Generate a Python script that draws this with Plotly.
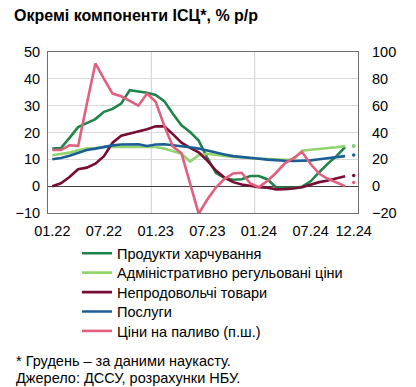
import plotly.graph_objects as go

# ---------------- data ----------------
months = [f"{m:02d}.{y}" for y in (22, 23, 24) for m in range(1, 13)]
tick_labels = ["01.22", "07.22", "01.23", "07.23", "01.24", "07.24", "12.24"]

# actual data through 11.24 (left axis, % y/y)
food = [14.0, 14.2, 18.0, 22.0, 23.5, 25.0, 27.7, 28.8, 30.8, 35.8, 35.3, 34.8,
        34.0, 31.7, 27.0, 22.7, 20.2, 17.0, 10.5, 5.0, 3.0, 2.4, 2.6, 3.8,
        3.8, 2.5, -0.5, -0.6, -0.6, -0.2, 1.8, 5.2, 8.4, 11.2, 14.6]
admin = [11.5, 12.0, 12.5, 13.4, 14.0, 14.2, 14.6, 14.6, 14.6, 14.6, 14.6, 14.8,
         14.6, 14.0, 13.0, 12.1, 9.2, 11.5, 12.1, 11.8, 11.3, 10.9, 10.6, 10.5,
         10.3, 10.1, 9.9, 9.8, 9.9, 13.2, 13.6, 13.9, 14.1, 14.5, 15.0]
nonfood = [0.0, 1.1, 3.4, 6.3, 6.9, 8.4, 11.2, 16.2, 18.8, 19.6, 20.5, 21.2,
           22.3, 22.3, 19.4, 16.2, 14.3, 12.6, 9.5, 5.8, 3.2, 1.5, 0.6, 0.0,
           -0.4, -0.6, -1.2, -1.1, -0.9, -0.4, 0.6, 1.5, 2.1, 2.8, 3.7]
services = [10.0, 10.5, 11.3, 12.5, 13.5, 14.0, 14.7, 15.2, 15.5, 15.6, 15.6, 15.0,
            15.5, 15.6, 15.3, 15.0, 14.5, 14.0, 13.2, 12.5, 11.8, 11.2, 10.8, 10.5,
            10.2, 9.9, 9.6, 9.5, 9.4, 9.4, 9.6, 10.0, 10.4, 10.8, 11.2]
# right axis
fuel = [27, 27, 30.5, 30, 61, 91.5, 80, 69, 67, 63.5, 60, 69,
        63, 45, 29.5, 24.5, 2, -20.5, -10, -1, 5.5, 9.5, 10, 2,
        -0.75, 4, 10, 17, 21, 25.5, 16.5, 9.25, 5.5, 2.5, 0]

# December 2024 nowcast
nowcast = {"food": 15.0, "admin": 15.0, "nonfood": 4.0, "services": 11.6, "fuel": 2.8}

keys = ["food", "admin", "nonfood", "services", "fuel"]
names = {
    "food": "Продукти харчування",
    "admin": "Адміністративно регульовані ціни",
    "nonfood": "Непродовольчі товари",
    "services": "Послуги",
    "fuel": "Ціни на паливо (п.ш.)",
}
colors = {
    "food": "#1e8449",
    "admin": "#92d36e",
    "nonfood": "#780c34",
    "services": "#1b5e96",
    "fuel": "#e0607e",
}
series = {"food": food, "admin": admin, "nonfood": nonfood, "services": services, "fuel": fuel}

# ---------------- layout geometry (page pixels) ----------------
OFF = 8                      # default body margin of the html page
PAGE_W, PAGE_H = 416, 387
W, H = PAGE_W - OFF, PAGE_H - OFF
plot_left, plot_right = 48.3, 358.3
plot_top, plot_bottom = 52.3, 212.7
L = plot_left - OFF
R = W - (plot_right - OFF)
T = plot_top - OFF
B = H - (plot_bottom - OFF)
FONT = "Liberation Sans, Arial, sans-serif"
FS = 14.5

plot_w = plot_right - plot_left
plot_h = plot_bottom - plot_top


def px_x(px):
    return (px - plot_left) / plot_w


def px_y(py):
    return (plot_bottom - py) / plot_h


def cx(px):
    return (px - OFF) / W


def cy(py):
    return 1 - (py - OFF) / H


x_all = list(range(len(months)))
fig = go.Figure()

legend_names = ["legend", "legend2", "legend3", "legend4", "legend5"]
for key, lg in zip(keys, legend_names):
    vals = series[key]
    axis = "y2" if key == "fuel" else "y"
    fig.add_trace(go.Scatter(
        x=x_all[:len(vals)], y=vals, mode="lines", name=names[key],
        line=dict(color=colors[key], width=2.6), yaxis=axis, legend=lg,
    ))

for key in keys:
    axis = "y2" if key == "fuel" else "y"
    fig.add_trace(go.Scatter(
        x=[x_all[-1]], y=[nowcast[key]], mode="markers", showlegend=False,
        marker=dict(color=colors[key], size=3.5), yaxis=axis, hoverinfo="skip",
    ))

year_bounds = [months.index("01.23") - 0.5, months.index("01.24") - 0.5]
for xb in year_bounds:
    fig.add_shape(type="line", xref="x", yref="paper", x0=xb, x1=xb, y0=0, y1=1,
                  line=dict(color="#d0d0d0", width=1), layer="below")

legend_item_y = [253.3, 272.7, 292.2, 311.6, 331.0]
legend_cfg = {}
for lg, py in zip(legend_names, legend_item_y):
    legend_cfg[lg] = dict(
        x=cx(77), xref="container", xanchor="left",
        y=cy(py), yref="container", yanchor="middle",
        orientation="v", font=dict(size=FS, color="#000000", family=FONT),
        bgcolor="rgba(0,0,0,0)", itemwidth=30,
    )

fig.update_layout(
    width=W, height=H,
    margin=dict(l=L, r=R, t=T, b=B, autoexpand=False),
    paper_bgcolor="white", plot_bgcolor="white",
    font=dict(family=FONT, size=FS, color="#000000"),
    title=dict(text="<b>Окремі компоненти ІСЦ*, % р/р</b>",
               x=cx(14), xref="container", xanchor="left",
               y=cy(15.5), yref="container", yanchor="middle",
               font=dict(size=16, color="#000000", family=FONT)),
    xaxis=dict(
        range=[-0.5, len(months) - 0.5],
        tickmode="array",
        tickvals=[months.index(t) for t in tick_labels],
        ticktext=tick_labels,
        showgrid=False, zeroline=False,
        showline=True, mirror=True, linecolor="#6e6e6e", linewidth=1,
        ticks="", ticklabelstandoff=5,
        tickfont=dict(size=FS, color="#000000"),
    ),
    yaxis=dict(
        range=[-10, 50], dtick=10, tick0=0,
        showgrid=True, gridcolor="#d9d9d9", gridwidth=1,
        zeroline=True, zerolinecolor="#404040", zerolinewidth=1,
        showline=True, mirror=True, linecolor="#6e6e6e", linewidth=1,
        ticks="", ticklabelstandoff=4,
        tickfont=dict(size=FS, color="#000000"),
    ),
    yaxis2=dict(
        range=[-20, 100], dtick=20, tick0=0,
        overlaying="y", side="right",
        showgrid=False, zeroline=False, showline=False,
        ticks="", ticklabelstandoff=13,
        tickfont=dict(size=FS, color="#000000"),
    ),
    showlegend=True,
    **legend_cfg,
)

fig.add_annotation(text="* Грудень – за даними наукасту.", xref="paper", yref="paper",
                   x=px_x(14), y=px_y(360.5), xanchor="left", yanchor="middle",
                   showarrow=False, font=dict(size=FS, color="#000000", family=FONT))
fig.add_annotation(text="Джерело: ДССУ, розрахунки НБУ.", xref="paper", yref="paper",
                   x=px_x(14), y=px_y(377), xanchor="left", yanchor="middle",
                   showarrow=False, font=dict(size=FS, color="#000000", family=FONT))

fig.write_html("out.html")
